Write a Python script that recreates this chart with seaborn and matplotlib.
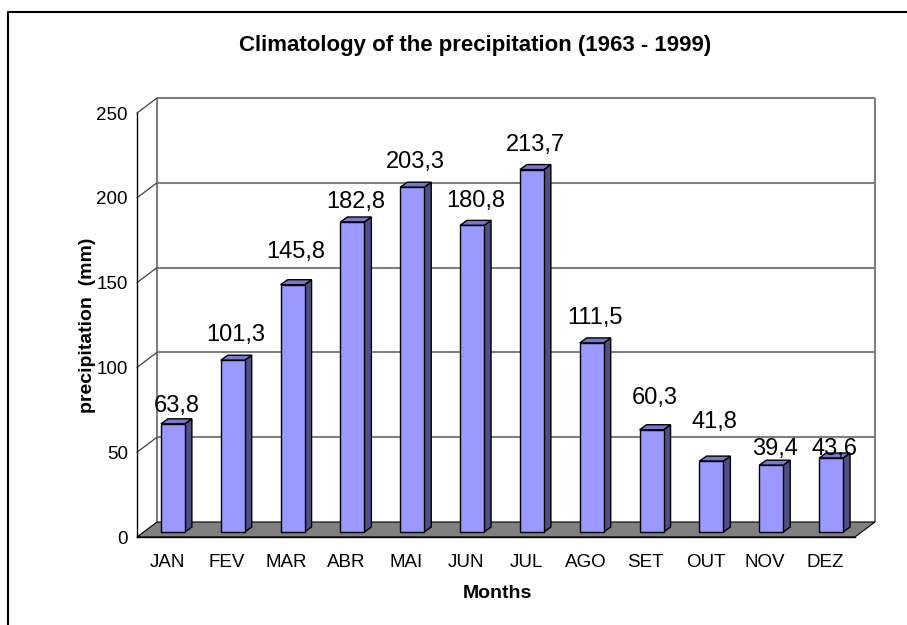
import numpy as np
import pandas as pd
import matplotlib.pyplot as plt
import matplotlib.transforms as mtransforms
from matplotlib.patches import Polygon
from matplotlib.lines import Line2D
import seaborn as sns

sns.set_style("white")
plt.rcParams['font.family'] = ['Liberation Sans', 'DejaVu Sans']
plt.rcParams['text.color'] = 'black'
plt.rcParams['axes.labelcolor'] = 'black'

# data
months = ['JAN', 'FEV', 'MAR', 'ABR', 'MAI', 'JUN', 'JUL', 'AGO', 'SET', 'OUT', 'NOV', 'DEZ']
precip = [63.8, 101.3, 145.8, 182.8, 203.3, 180.8, 213.7, 111.5, 60.3, 41.8, 39.4, 43.6]
labels = ['63,8', '101,3', '145,8', '182,8', '203,3', '180,8', '213,7', '111,5', '60,3', '41,8', '39,4', '43,6']
# label gap above the bar top (pixels), as placed in the original
label_gap = [7, 14, 22, 9, 14, 13, 14, 14, 21, 28, 5, -2]

FRONT = '#9999FF'
SIDE = '#4F4F86'
TOP = '#7777CC'
GRID = '#808080'

W, H = 907, 625
fig = plt.figure(figsize=(W / 100, H / 100), dpi=100)
ax = fig.add_axes([137 / W, (H - 537) / H, (855 - 137) / W, (537 - 113) / H])

df = pd.DataFrame({'month': months, 'precip': precip})
sns.barplot(data=df, x='month', y='precip', color=FRONT, saturation=1, width=0.4,
            edgecolor='black', linewidth=1, ax=ax, zorder=5)
ax.set_xlim(-0.5, len(months) - 0.5)
ax.set_ylim(0, 250)


def shifted(dx, dy):
    return ax.transData + mtransforms.ScaledTranslation(dx / 100, dy / 100, fig.dpi_scale_trans)


ident = mtransforms.IdentityTransform()
WALL = (20, 15)   # depth of the box
BF = (6, 5)       # bar front face depth
BB = (13, 10)     # bar back face depth

# back wall gridlines and side walls
yt = [50, 100, 150, 200, 250]
ax.hlines(yt, -0.5, len(months) - 0.5, colors=GRID, lw=1.5, transform=shifted(*WALL), zorder=1, clip_on=False)
ax.vlines([-0.5, len(months) - 0.5], 0, 250, colors=GRID, lw=1.5, transform=shifted(*WALL), zorder=1, clip_on=False)
for v in yt:
    px, py = ax.transData.transform((-0.5, v))
    ax.add_line(Line2D([px, px + WALL[0]], [py, py + WALL[1]], color='#404040', lw=0.9,
                       transform=ident, zorder=1, clip_on=False))

# floor
x0, y0 = ax.transData.transform((-0.5, 0))
x1, _ = ax.transData.transform((len(months) - 0.5, 0))
ax.add_patch(Polygon([(x0, y0), (x1, y0), (x1 + WALL[0], y0 + WALL[1]), (x0 + WALL[0], y0 + WALL[1])],
                     closed=True, facecolor='#808080', edgecolor='black', lw=0.8,
                     transform=ident, zorder=2, clip_on=False))

# bars: shift the front faces into depth, add sides and tops
for p in ax.patches[:len(months)]:
    p.set_transform(shifted(*BF))
    p.set_clip_on(False)

for i, v in enumerate(precip):
    bx0, by0 = ax.transData.transform((i - 0.2, 0))
    bx1, by1 = ax.transData.transform((i + 0.2, v))
    side = [(bx1 + BF[0], by0 + BF[1]), (bx1 + BB[0], by0 + BB[1]),
            (bx1 + BB[0], by1 + BB[1]), (bx1 + BF[0], by1 + BF[1])]
    top = [(bx0 + BF[0], by1 + BF[1]), (bx1 + BF[0], by1 + BF[1]),
           (bx1 + BB[0], by1 + BB[1]), (bx0 + BB[0], by1 + BB[1])]
    ax.add_patch(Polygon(side, closed=True, facecolor=SIDE, edgecolor='black', lw=1,
                         transform=ident, zorder=4, clip_on=False))
    ax.add_patch(Polygon(top, closed=True, facecolor=TOP, edgecolor='black', lw=1,
                         transform=ident, zorder=4, clip_on=False))
    ax.annotate(labels[i], xy=(i, v), xytext=(9.5, BB[1] + label_gap[i]), textcoords='offset pixels',
                ha='center', va='baseline', fontsize=17, color='black', zorder=6, annotation_clip=False)

# axes
for s in ['top', 'right']:
    ax.spines[s].set_visible(False)
for s in ['left', 'bottom']:
    ax.spines[s].set_color('black')
    ax.spines[s].set_linewidth(1)
    ax.spines[s].set_zorder(3)
ax.set_yticks([0, 50, 100, 150, 200, 250])
ax.tick_params(axis='y', direction='out', length=5, width=1, pad=1.5, labelsize=13.5, colors='black')
ax.set_xticks(np.arange(len(months)))
ax.set_xticklabels(months)
ax.set_xticks(np.arange(len(months) + 1) - 0.5, minor=True)
ax.tick_params(axis='x', which='major', length=0, pad=12, labelsize=13.5, colors='black')
ax.tick_params(axis='x', which='minor', direction='out', length=5, width=1, color='black')
ax.set_xlabel('')
ax.set_ylabel('')

fig.text(475 / W, 1 - 45 / H, 'Climatology of the precipitation (1963 - 1999)', ha='center', va='center',
         fontsize=16, fontweight='bold')
fig.text(497 / W, 1 - 593 / H, 'Months', ha='center', va='center', fontsize=14, fontweight='bold')
fig.text(88 / W, 1 - 325 / H, 'precipitation  (mm)', ha='center', va='center', rotation=90,
         fontsize=14, fontweight='bold')

# chart frame (only top and left edges are visible)
fig.add_artist(Line2D([8 / W, 8 / W, 1], [0, 1 - 12 / H, 1 - 12 / H], color='black', lw=1.5,
                      transform=fig.transFigure))

fig.savefig('out.png', dpi=100)
